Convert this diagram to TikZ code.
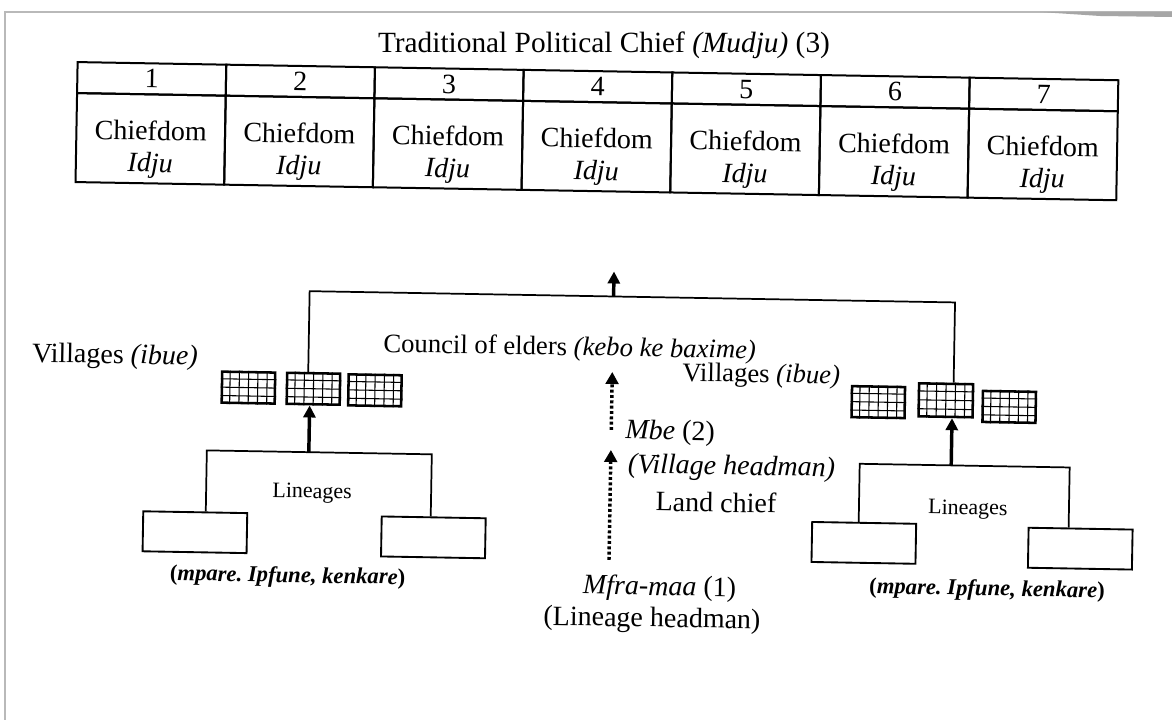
\documentclass[tikz,border=0pt]{standalone}
\usepackage{fontspec}
\setmainfont{Liberation Serif}
\usetikzlibrary{arrows.meta,calc}
\begin{document}
\frenchspacing
\begin{tikzpicture}[x=0.75pt,y=-0.75pt,
  txt/.style={font=\fontsize{21}{24}\selectfont, inner sep=0pt},
  midtxt/.style={font=\fontsize{20}{23}\selectfont, inner sep=0pt},
  smalltxt/.style={font=\fontsize{16.5}{19}\selectfont, inner sep=0pt},
  lbl/.style={font=\fontsize{17}{20}\selectfont\bfseries, inner sep=0pt},
  cell/.style={draw, line width=1.5pt, minimum width=111.5pt, inner sep=0pt},
  village/.style={draw, line width=1.9pt, minimum width=39.75pt, minimum height=23.25pt, inner sep=0pt},
  lbox/.style={draw, line width=1.4pt, minimum width=78pt, minimum height=30pt, inner sep=0pt},
  conn/.style={line width=1.3pt},
  gridline/.style={line width=0.8pt},
  uparrow/.style={line width=2.6pt, -{Triangle[width=9pt,length=9pt]}},
  dotarrow/.style={line width=2.6pt, dash pattern=on 2.2pt off 1.8pt, -{Triangle[width=9.5pt,length=9pt]}},
]
\useasboundingbox (0,0) rectangle (1172,720);
\fill[white] (0,0) rectangle (1172,720);
% scan frame
\draw[gray!55, line width=1.2pt] (5,720) -- (5,12) -- (1172,12);
\fill[gray!70] (1040,12) -- (1172,12) -- (1172,17) -- (1100,16) -- cycle;

\node[font=\fontsize{22}{26}\selectfont, inner sep=0pt] (title) at (604,45) {Traditional Political Chief \textit{(Mudju)} (3)};

\begin{scope}[rotate around={-1:(586,330)}, transform shape]
  % table
  \foreach \i/\cx in {1/147.35, 2/296.05, 3/444.75, 4/593.45, 5/742.15, 6/890.85, 7/1039.55} {
    \node[cell, minimum height=23.25pt, txt] (num\i) at (\cx,86.5) {\i};
    \node[cell, minimum height=66.75pt] (body\i) at (\cx,146.5) {};
    \node[txt] (chief\i) at (\cx,138) {Chiefdom};
    \node[txt] (idju\i) at (\cx,173) {\textit{Idju}};
  }
  \coordinate (tBase) at (613,296);
  \coordinate (tTip) at (613,271);
  \draw[uparrow] (tBase) -- (tTip);

  % villages
  \node[village] (gL1) at (249.5,393.5) {};
  \node[village] (gL2) at (314.5,393.5) {};
  \node[village] (gL3) at (376,394) {};
  \node[village] (gR1) at (879.5,397) {};
  \node[village, minimum width=40.5pt, minimum height=24.75pt] (gR2) at (947,394) {};
  \node[village] (gR3) at (1010.5,399.5) {};
  \foreach \g in {gL1,gL2,gL3,gR1,gR2,gR3} {
    \foreach \i in {1,...,5}
      \draw[gridline] ($(\g.north west)!\i/6!(\g.north east)$) -- ($(\g.south west)!\i/6!(\g.south east)$);
    \foreach \j in {1,2,3}
      \draw[gridline] ($(\g.north west)!\j/4!(\g.south west)$) -- ($(\g.north east)!\j/4!(\g.south east)$);
  }

  % big bracket
  \coordinate (bL) at (309,296);
  \coordinate (bR) at (954.5,296);
  \draw[conn] (gL2.north -| bL) -- (bL) -- (bR) -- (gR2.north -| bR);

  % lineage boxes
  \node[lbox] (lbA) at (198.5,539) {};
  \node[lbox] (lbB) at (437,540) {};
  \node[lbox] (lbC) at (867.5,538) {};
  \node[lbox] (lbD) at (1084,540) {};

  \coordinate (lL1) at (209,457);
  \coordinate (lL2) at (434,457);
  \coordinate (lLm) at (311,457);
  \draw[conn] (lbA.north -| lL1) -- (lL1) -- (lL2) -- (lbB.north -| lL2);
  \draw[uparrow] (lLm) -- (gL2.south -| lLm);

  \coordinate (lR1) at (862,459);
  \coordinate (lR2) at (1072,459);
  \coordinate (lRm) at (953.5,459);
  \draw[conn] (lbC.north -| lR1) -- (lR1) -- (lR2) -- (lbD.north -| lR2);
  \draw[uparrow] (lRm) -- (gR2.south -| lRm);

  % texts
  \node[txt] (villL) at (115.5,365) {Villages \textit{(ibue)}};
  \node[midtxt] (council) at (570,349) {Council of elders \textit{(kebo ke baxime)}};
  \node[midtxt] (villR) at (762,373) {Villages \textit{(ibue)}};
  \node[txt] (mbe) at (672,431.5) {\textit{Mbe} (2)};
  \node[txt] (vhead) at (734,465.5) {\textit{(Village headman)}};
  \node[txt] (land) at (719,500) {Land chief};
  \node[txt] (mfra) at (664,587) {\textit{Mfra-maa} (1)};
  \node[txt] (lhead) at (657,619) {(Lineage headman)};
  \node[smalltxt] (linL) at (315,498) {Lineages};
  \node[smalltxt] (linR) at (971,503) {Lineages};
  \node[lbl] (labL) at (292,582) {(\textit{mpare. Ipfune, kenkare})};
  \node[lbl] (labR) at (991.5,583) {(\textit{mpare. Ipfune, kenkare})};

  % dotted arrows
  \coordinate (d1s) at (613,429.5);
  \coordinate (d1e) at (613,371.5);
  \coordinate (d2s) at (613,559.5);
  \coordinate (d2e) at (613,449.5);
  \draw[dotarrow] (d1s) -- (d1e);
  \draw[dotarrow] (d2s) -- (d2e);
\end{scope}
\end{tikzpicture}
\end{document}
